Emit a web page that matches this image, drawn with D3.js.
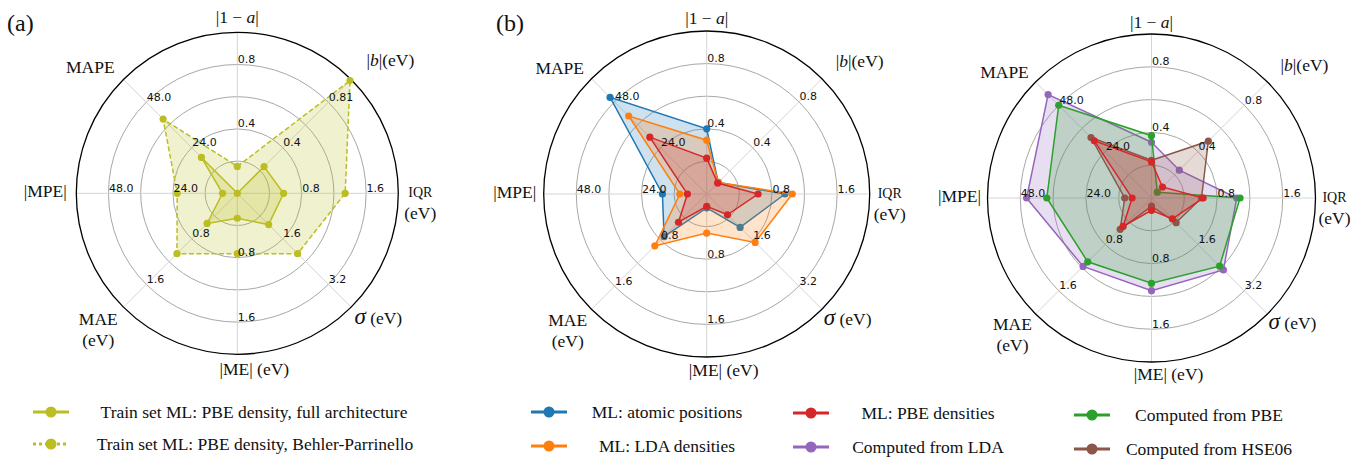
<!DOCTYPE html>
<html>
<head>
<meta charset="utf-8">
<script src="https://cdn.jsdelivr.net/npm/d3@7"></script>
<style>
  body { margin: 0; background: #fff; }
  svg { display: block; }
</style>
</head>
<body>
<svg id="fig" width="1366" height="462"></svg>
<script>
// ── DATA ────────────────────────────────────────────
// axes, clockwise from the top
const AXES      = ['|1 − *a*|', '|*b*|(eV)', 'IQR', '*σ* (eV)', '|ME| (eV)', 'MAE', '|MPE|', 'MAPE'];
const AXIS_MAX  = [1.0, 1.0, 2.0, 4.0, 2.0, 2.0, 60, 60];
const TICKS_A   = [['0.4', '0.8'], ['0.4', '0.81'], ['0.8', '1.6'], ['1.6', '3.2'],
                   ['0.8', '1.6'], ['0.8', '1.6'], ['24.0', '48.0'], ['24.0', '48.0']];
const TICKS_BC  = [['0.4', '0.8'], ['0.4', '0.8'], ['0.8', '1.6'], ['1.6', '3.2'],
                   ['0.8', '1.6'], ['0.8', '1.6'], ['24.0', '48.0'], ['24.0', '48.0']];

// values, same order as AXES
const TRAIN_FULL = [0.00, 0.235, 0.575, 1.10, 0.31, 0.53, 5.5, 18.9];
const TRAIN_BP   = [0.167, 0.99, 1.34, 2.12, 0.75, 1.06, 22.4, 39.1];
const ML_POS     = [0.40, 0.10, 0.96, 1.16, 0.17, 0.74, 16.3, 50.3];
const ML_LDA     = [0.33, 0.10, 1.05, 1.68, 0.48, 0.90, 9.9, 40.6];
const ML_PBE     = [0.22, 0.095, 0.63, 0.72, 0.15, 0.49, 7.1, 29.6];
const DFT_LDA    = [0.34, 0.24, 1.04, 2.48, 1.13, 1.18, 45.7, 53.5];
const DFT_PBE    = [0.38, 0.05, 1.08, 2.35, 1.04, 1.10, 38.3, 48.0];
const DFT_HSE    = [0.23, 0.49, 0.61, 0.85, 0.10, 0.54, 9.8, 31.3];

const SERIES_NAMES = {
  full: 'Train set ML: PBE density, full architecture',
  bp:   'Train set ML: PBE density, Behler-Parrinello',
  pos:  'ML: atomic positions',
  mlLda:'ML: LDA densities',
  mlPbe:'ML: PBE densities',
  lda:  'Computed from LDA',
  pbe:  'Computed from PBE',
  hse:  'Computed from HSE06'
};

const col = {
  olive: '#bcbd22', blue: '#1f77b4', orange: '#ff7f0e', red: '#d62728',
  purple: '#9467bd', green: '#2ca02c', brown: '#8c564b'
};

const SERIF = '"Liberation Serif", "DejaVu Serif", serif';
const SANS  = '"DejaVu Sans", sans-serif';

const svg = d3.select('#fig');
const N = AXES.length;
const angle = i => i * 2 * Math.PI / N;

// label offsets from the chart centre (lines of the label)
const LABEL_POS = [
  [[0, -176]],
  [[153, -133]],
  [[183, -1], [183, 20]],
  [[141, 125]],
  [[17, 176]],
  [[-139, 126], [-139, 147]],
  [[-192, -2]],
  [[-147, -126]]
];

// write a string with *italic* parts as tspans
function richText(sel, str) {
  str.split('*').forEach((part, k) => {
    if (!part) return;
    const t = sel.append('tspan').text(part);
    if (k % 2 === 1) {
      t.attr('font-style', 'italic');
      if (part === 'σ') t.attr('font-size', '23px');
    }
  });
}

function radar(cx, cy, R, ticks, series) {
  const g = svg.append('g').attr('transform', `translate(${cx},${cy})`);
  const scales = AXIS_MAX.map(m => d3.scaleLinear().domain([0, m]).range([0, R]));

  // rings
  [1, 2, 3, 4].forEach(k => {
    g.append('circle').attr('r', R * k / 5)
      .attr('fill', 'none').attr('stroke', '#a8a8a8').attr('stroke-width', 1);
  });
  // spokes
  AXES.forEach((a, i) => {
    const [x, y] = d3.pointRadial(angle(i), R);
    g.append('line').attr('x1', 0).attr('y1', 0).attr('x2', x).attr('y2', y)
      .attr('stroke', '#d4d4d4').attr('stroke-width', 1);
  });
  g.append('circle').attr('r', R).attr('fill', 'none')
    .attr('stroke', '#000').attr('stroke-width', 1.3);

  // series
  series.forEach(s => {
    const line = d3.lineRadial()
      .angle((d, i) => angle(i))
      .radius((d, i) => scales[i](d))
      .curve(d3.curveLinearClosed);
    g.append('path').attr('d', line(s.values))
      .attr('fill', s.color).attr('fill-opacity', 0.22).attr('stroke', 'none');
    g.append('path').attr('d', line(s.values))
      .attr('fill', 'none').attr('stroke', s.color).attr('stroke-width', 1.5)
      .attr('stroke-dasharray', s.dash ? '5,2.5' : null);
    g.selectAll(null).data(s.values).enter().append('circle')
      .attr('cx', (d, i) => d3.pointRadial(angle(i), scales[i](d))[0])
      .attr('cy', (d, i) => d3.pointRadial(angle(i), scales[i](d))[1])
      .attr('r', 3.6).attr('fill', s.color);
  });

  // tick labels at rings 2 and 4, anchored left-bottom
  ticks.forEach((tl, i) => {
    tl.forEach((t, k) => {
      const [x, y] = d3.pointRadial(angle(i), R * (k + 1) * 2 / 5);
      g.append('text').attr('x', x + 0.5).attr('y', y - 1.5)
        .attr('font-family', SANS).attr('font-size', '11px').attr('fill', '#111')
        .text(t);
    });
  });

  // axis labels
  AXES.forEach((a, i) => {
    const pos = LABEL_POS[i];
    const lines = pos.length > 1 ? [a, '(eV)'] : [a];
    lines.forEach((ln, k) => {
      const t = g.append('text')
        .attr('x', pos[k][0]).attr('y', pos[k][1]).attr('dy', '0.35em')
        .attr('text-anchor', 'middle')
        .attr('font-family', SERIF).attr('font-size', ln === 'IQR' ? '14px' : '17.5px')
        .attr('fill', '#111');
      richText(t, ln);
    });
  });
}

radar(237.3, 193.3, 161, TICKS_A, [
  { values: TRAIN_BP,   color: col.olive, dash: true },
  { values: TRAIN_FULL, color: col.olive }
]);
radar(706.7, 194, 163, TICKS_BC, [
  { values: ML_POS, color: col.blue },
  { values: ML_LDA, color: col.orange },
  { values: ML_PBE, color: col.red }
]);
radar(1151.5, 198, 164, TICKS_BC, [
  { values: DFT_LDA, color: col.purple },
  { values: DFT_PBE, color: col.green },
  { values: DFT_HSE, color: col.brown },
  { values: ML_PBE,  color: col.red }
]);

// panel letters
[['(a)', 7, 31], ['(b)', 496, 31]].forEach(([t, x, y]) => {
  svg.append('text').attr('x', x).attr('y', y)
    .attr('font-family', SERIF).attr('font-size', '24px').attr('fill', '#111').text(t);
});

// ── LEGEND ──────────────────────────────────────────
const legend = [
  { name: SERIES_NAMES.full,  color: col.olive,  mx: 51,   tx: 254,  y: 412 },
  { name: SERIES_NAMES.bp,    color: col.olive,  mx: 51,   tx: 255,  y: 444, dash: true },
  { name: SERIES_NAMES.pos,   color: col.blue,   mx: 549,  tx: 667,  y: 412 },
  { name: SERIES_NAMES.mlLda, color: col.orange, mx: 549,  tx: 667,  y: 446 },
  { name: SERIES_NAMES.mlPbe, color: col.red,    mx: 811,  tx: 928,  y: 413 },
  { name: SERIES_NAMES.lda,   color: col.purple, mx: 811,  tx: 928,  y: 447 },
  { name: SERIES_NAMES.pbe,   color: col.green,  mx: 1092, tx: 1209, y: 415 },
  { name: SERIES_NAMES.hse,   color: col.brown,  mx: 1092, tx: 1209, y: 449 }
];
legend.forEach(l => {
  svg.append('line').attr('x1', l.mx - 18).attr('x2', l.mx + 18)
    .attr('y1', l.y).attr('y2', l.y)
    .attr('stroke', l.color).attr('stroke-width', 3)
    .attr('stroke-dasharray', l.dash ? '3,3' : null);
  svg.append('circle').attr('cx', l.mx).attr('cy', l.y).attr('r', 5.5).attr('fill', l.color);
  svg.append('text').attr('x', l.tx).attr('y', l.y).attr('dy', '0.33em')
    .attr('text-anchor', 'middle')
    .attr('font-family', SERIF).attr('font-size', '17.5px').attr('fill', '#111')
    .text(l.name);
});
</script>
</body>
</html>
